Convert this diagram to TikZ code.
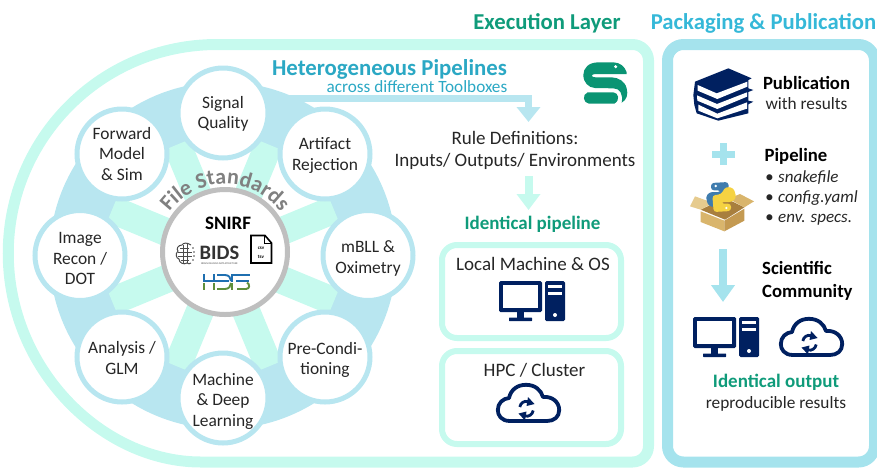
\documentclass[tikz,border=0pt]{standalone}
\usepackage{fontspec}
\setmainfont{Carlito}
\usetikzlibrary{arrows.meta,decorations.text,shapes.geometric}
\definecolor{mintc}{HTML}{C6FAEE}
\definecolor{ringc}{HTML}{B8E6F0}
\definecolor{pubc}{HTML}{A5E3ED}
\definecolor{navyc}{HTML}{002060}
\definecolor{greenc}{HTML}{0F9B7A}
\definecolor{tealc}{HTML}{2BA8C4}
\definecolor{pubt}{HTML}{35B8D8}
\definecolor{snakec}{HTML}{0A9473}
\definecolor{hblue}{HTML}{1F6FB0}
\definecolor{hgreen}{HTML}{5E8F3A}
\definecolor{boxa}{HTML}{D9B56C}
\definecolor{boxb}{HTML}{C49A52}
\definecolor{boxc}{HTML}{A87F3E}
\definecolor{boxd}{HTML}{E6CB8E}
\definecolor{pyblue}{HTML}{3F7CAE}
\definecolor{pyyellow}{HTML}{F5D242}
\newcommand{\fs}[2]{\fontsize{#1}{#2}\selectfont}
\newcommand{\stepnode}[5]{\node[stepc,label={[steptext,yshift=-#4pt]center:{#5}}] (#1) at (#2,#3) {};}
\tikzset{
  stepc/.style={circle,draw=ringc,fill=white,line width=5pt,minimum size=90pt,inner sep=0pt},
  steptext/.style={inner sep=0pt,align=center,font=\fs{17.4}{20.5},text=black!85},
  lbl/.style={inner sep=0pt,align=center,font=\fs{17.3}{21},text=black!85},
  biglbl/.style={inner sep=0pt,align=center,font=\fs{19}{22},text=black!85},
  boldl/.style={inner sep=0pt,align=center,font=\fs{18.7}{23}\bfseries,text=black},
  itemtxt/.style={inner sep=0pt,anchor=west,text=black!85,font=\fs{17}{19}\itshape},
  title/.style={inner sep=0pt,font=\fs{22.7}{24}\bfseries},
  greent/.style={inner sep=0pt,font=\fs{19}{20}\bfseries,text=greenc},
  envbox/.style={draw=mintc,line width=6pt,rounded corners=15pt},
  mintarrow/.style={mintc,line width=8pt,-{Triangle[length=16pt,width=23pt]}},
  bluearrow/.style={ringc,line width=7pt,-{Triangle[length=15pt,width=23pt]}},
  pubarrow/.style={pubc,line width=8pt,-{Triangle[length=17pt,width=23pt]}},
  pics/computericon/.style={code={
    \fill[navyc,rounded corners=1.5pt] (0,0) rectangle (43,31);
    \fill[white] (4,4) rectangle (39,27);
    \fill[navyc] (18,31) rectangle (25,37);
    \fill[navyc,rounded corners=.5pt] (10,36.5) rectangle (33,40);
    \fill[navyc,rounded corners=1.5pt] (46,0) rectangle (66,40);
    \fill[white] (49,4) rectangle (63,7.3);
    \fill[white] (49,10.5) rectangle (63,14);
    \fill[white] (56,34) circle[radius=2];
  }},
  pics/cloudicon/.style={code={
    \draw[navyc,line width=3.8pt,line join=round]
      (14,38) .. controls (5,38) and (1.8,32) .. (1.8,27)
      .. controls (1.8,20) and (7,15.5) .. (13,15)
      .. controls (15,6) and (22,1.8) .. (30,1.8)
      .. controls (39,1.8) and (45,7) .. (47,14)
      .. controls (56,13) and (63.2,19) .. (63.2,27)
      .. controls (63.2,34) and (58,38) .. (51,38) -- cycle;
    \draw[navyc,line width=2.8pt] (32,18.5) .. controls (28,17.5) and (24.5,20) .. (23.8,24);
    \fill[navyc] (38.5,21) -- (30.5,23) -- (32,14) -- cycle;
    \draw[navyc,line width=2.8pt] (29,33) .. controls (33,34) and (36.5,31.5) .. (37.2,27.5);
    \fill[navyc] (22.5,30.5) -- (30.5,28.5) -- (29,37.5) -- cycle;
  }},
}
\begin{document}
\begin{tikzpicture}[x=1pt,y=-1pt]
\useasboundingbox (0,0) rectangle (877,467);
\clip (0,0) rectangle (877,467);
% panels
\draw[mintc,line width=11pt] (217,44.5) [rounded corners=16pt] -- (648.5,44.5) -- (648.5,462) -- (217,462) [sharp corners] arc[start angle=90,end angle=270,radius=208.75] -- cycle;
\draw[pubc,line width=11pt,rounded corners=16pt] (667.5,44.5) rectangle (874.5,462);
% wheel
\draw[ringc,line width=54pt] (223,255.5) circle[radius=146.5];
\coordinate (wc) at (223,255.5);
\foreach \a in {22.5,67.5,...,337.5}{
  \draw[mintc,line width=28pt] (wc) -- ++(\a:120);
}
% connector start sits under the circles
\coordinate (flowstart) at (288,98.5);
\coordinate (flowend) at (528.5,122);
\draw[bluearrow] (flowstart) -| (flowend);
% step circles
\stepnode{sq}{223}{113}{1}{Signal\\Quality}
\stepnode{ar}{325}{154}{1.5}{Artifact\\Rejection}
\stepnode{mb}{368}{255.5}{3}{mBLL \&\\Oximetry}
\stepnode{pc}{325}{357}{3}{Pre-Condi-\\tioning}
\stepnode{ml}{223}{398}{3}{Machine\\\& Deep\\Learning}
\stepnode{ag}{122}{357}{1}{Analysis /\\GLM}
\stepnode{ir}{80}{255.5}{3}{Image\\Recon /\\DOT}
\stepnode{fm}{122}{154}{0}{Forward\\Model\\\& Sim}
% centre
\node[circle,draw=black!25,fill=white,line width=5pt,minimum size=125pt,inner sep=0pt] (core) at (225,252) {};
\path[decorate,decoration={text along path,text align=center,
  text={|\fs{22}{22}\bfseries\color{black!50}|File Standards}}]
  (225,253) ++(205:69) arc[start angle=205,end angle=335,radius=69];
\node[inner sep=0pt,font=\fs{19}{20}\bfseries] (snirf) at (228,223) {SNIRF};
\node[inner sep=0pt,font=\fs{20.5}{20}\bfseries,text=black!80] (bids) at (219.5,253) {BIDS};
\node[inner sep=0pt,font=\fs{2.6}{3},text=black!70] (bidssub) at (219.5,263.5) {BRAIN IMAGING DATA STRUCTURE};
% brain
\begin{scope}[black!70,line width=1pt]
  \draw (191,245) .. controls (187,242) and (183,243) .. (182,245) .. controls (178,245) and (176,249) .. (178,251)
    .. controls (175,254) and (176,258) .. (179,259) .. controls (179,263) and (184,265) .. (187,263) .. controls (188,264) and (190,264) .. (191,263);
  \draw (180,248) -- (189,248) (178,252) -- (192,252) (178,256) -- (192,256) (181,260) -- (189,260);
  \draw (183,245) -- (183,263) (187,244) -- (187,263);
  \fill (193,248) circle[radius=.9] (194,252) circle[radius=.9] (194,256) circle[radius=.9] (193,260) circle[radius=.9];
\end{scope}
% file icon
\draw[black,line width=1.6pt,line join=miter] (251,235.5) -- (265,235.5) -- (271.5,243) -- (271.5,263) -- (251,263) -- cycle;
\draw[black,line width=1.2pt] (264.5,235.5) -- (264.5,243.5) -- (271.5,243.5);
\node[inner sep=0pt,font=\fs{5}{5}\bfseries] (csvt) at (261,248) {csv};
\node[inner sep=0pt,font=\fs{5}{5}\bfseries] (tsvt) at (261,257) {tsv};
% HDF5
\begin{scope}[line width=1.9pt,color=hblue]
  \draw (204,274) -- (204,282) (214,274) -- (214,282) (204,281) -- (229,281);
  \draw (217,275) -- (225,275) .. controls (229,275) and (231,278) .. (231,281);
  \draw (232,282) -- (232,275) -- (250,275) (236,281) -- (249,281);
\end{scope}
\begin{scope}[line width=1.9pt,color=hgreen]
  \draw (204,283) -- (204,290) (214,283) -- (214,290);
  \draw (217,289) -- (225,289) .. controls (229,289) and (231,286) .. (231,283);
  \draw (232,283) -- (232,290);
  \draw (247,282.5) .. controls (250,284) and (250,289) .. (246,289) -- (237,289);
\end{scope}
% titles
\node[title,text=greenc] (exec) at (547,23.5) {Execution Layer};
\node[title,text=pubt] (pack) at (763.5,23.5) {Packaging \& Publication};
\node[inner sep=0pt,font=\fs{22.8}{24}\bfseries,text=tealc] (het) at (389.5,69.5) {Heterogeneous Pipelines};
\node[inner sep=0pt,font=\fs{17.2}{18},text=tealc] (across) at (417,87) {across different Toolboxes};
% logo
\begin{scope}[shift={(575,55)},scale=1/3]
  \fill[snakec] (155,52) .. controls (150,35) and (135,22) .. (115,22) -- (70,22)
    .. controls (40,22) and (25,40) .. (25,60)
    .. controls (25,82) and (40,98) .. (60,99) -- (115,100)
    .. controls (135,100) and (145,118) .. (140,143)
    .. controls (155,135) and (160,118) .. (155,100)
    .. controls (150,78) and (130,68) .. (110,67) -- (62,67)
    .. controls (47,67) and (47,58) .. (60,57) -- (155,57) -- cycle;
  \fill[snakec] (38,112) -- (115,112) .. controls (130,113) and (137,135) .. (118,146)
    -- (42,146) .. controls (25,145) and (20,118) .. (38,112) -- cycle;
  \fill[white] (122,35) circle[radius=5];
\end{scope}
% middle column
\node[biglbl] (rule) at (515,150.5) {Rule Definitions:\\Inputs/ Outputs/ Environments};
\coordinate (ruleout) at (528.5,176);
\coordinate (identin) at (528.5,210);
\draw[mintarrow] (ruleout) -- (identin);
\node[greent] (ident) at (532.5,224.5) {Identical pipeline};
\draw[envbox] (442,245) rectangle (621,338);
\draw[envbox] (442,351) rectangle (621,444);
\node[biglbl] (local) at (533,264) {Local Machine \& OS};
\node[biglbl] (hpc) at (534.5,370) {HPC / Cluster};
\pic at (499,281) {computericon};
\pic at (496,383) {cloudicon};
% right column
\begin{scope}[shift={(685,60)},scale=1/3]
  \fill[navyc,line join=round] (130,25) -- (200,55) -- (190,60) -- (190,85) -- (205,90) -- (190,96) -- (190,122) -- (205,125) -- (190,133) -- (190,160) -- (100,182) -- (35,160) -- (28,135) -- (25,105) -- (30,65) -- cycle;
  \fill[white] (38,75) -- (95,100) -- (187,65) -- (187,80) -- (97,117) -- (38,92) -- cycle;
  \fill[white] (36,106) -- (96,132) -- (186,97) -- (186,110) -- (97,147) -- (37,122) -- cycle;
  \fill[white] (40,134) -- (97,161) -- (186,127) -- (186,146) -- (97,175) -- (40,152) -- cycle;
\end{scope}
\node[boldl] (pubt) at (806.5,83) {Publication};
\node[lbl] (withr) at (806.5,103.5) {with results};
\fill[pubc] (719.5,143) rectangle (726.5,165);
\fill[pubc] (712,150.5) rectangle (735,157.5);
\node[boldl] (pipet) at (796,156) {Pipeline};
\node[itemtxt] (it1) at (765,177.5) {\makebox[13pt][l]{\textbullet}snakefile};
\node[itemtxt] (it2) at (765,198.5) {\makebox[13pt][l]{\textbullet}config.yaml};
\node[itemtxt] (it3) at (765,219.5) {\makebox[13pt][l]{\textbullet}env. specs.};
\begin{scope}[shift={(685,178)},scale=1/3]
  \fill[boxc] (47,95) -- (120,125) -- (178,88) -- (120,60) -- cycle;
  \fill[boxd] (47,95) -- (15,85) -- (30,55) -- (85,75) -- cycle;
  \fill[boxa] (178,88) -- (207,70) -- (165,48) -- (130,62) -- cycle;
  \foreach \col/\rt in {pyblue/0,pyyellow/180}{
    \begin{scope}[rotate around={\rt:(108,57)}]
      \fill[\col,rounded corners=3pt] (78,15) -- (130,12) -- (134,62) -- (108,65) -- (94,88) -- (70,84) -- (62,56) -- (74,42) -- (108,42) -- (108,37) -- (78,37) -- cycle;
      \fill[white] (92,24) circle[radius=4];
    \end{scope}
  }
  \fill[boxa] (47,100) -- (118,128) -- (118,160) -- (47,132) -- cycle;
  \fill[boxb] (118,128) -- (178,92) -- (178,128) -- (118,160) -- cycle;
\end{scope}
\coordinate (boxout) at (723,249);
\coordinate (commin) at (723,302);
\draw[pubarrow] (boxout) -- (commin);
\node[boldl,anchor=west,align=left] (sci) at (762,281) {Scientific\\Community};
\pic at (693,317) {computericon};
\pic at (779,317) {cloudicon};
\node[greent] (iout) at (776,382.5) {Identical output};
\node[lbl] (repro) at (776,404) {reproducible results};
\end{tikzpicture}
\end{document}
